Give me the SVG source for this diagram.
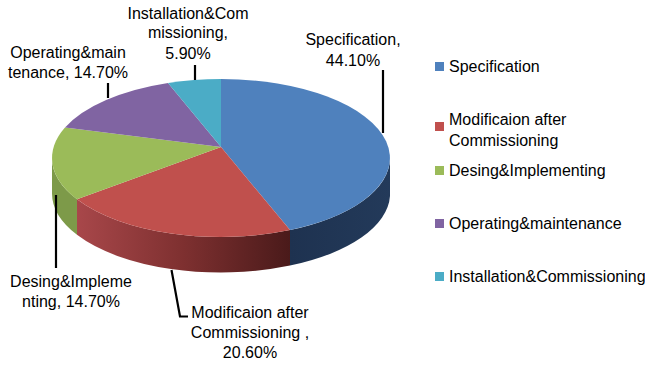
<svg xmlns="http://www.w3.org/2000/svg" width="645" height="367" viewBox="0 0 645 367">
<defs>
<linearGradient id="redSide" x1="77" y1="0" x2="290" y2="0" gradientUnits="userSpaceOnUse">
<stop offset="0" stop-color="#A8474A"/>
<stop offset="0.5" stop-color="#7E3030"/>
<stop offset="1" stop-color="#4A1A1A"/>
</linearGradient>
<linearGradient id="blueSide" x1="290" y1="0" x2="390" y2="0" gradientUnits="userSpaceOnUse">
<stop offset="0" stop-color="#1E3250"/>
<stop offset="1" stop-color="#233A5A"/>
</linearGradient>
</defs>
<style>
text{font-family:"Liberation Sans",Arial,sans-serif;font-size:16px;fill:#000}
.c{text-anchor:middle}
.lead{stroke:#000;stroke-width:2.2;fill:none}
</style>
<rect width="645" height="367" fill="#fff"/>
<g id="pie">
<g id="sides">
<path d="M52,158 A169,79 0 0,0 77,199.3 L77,234.8 A169,79 0 0,1 52,193.5 Z" fill="#7D9A49"/>
<path d="M77,199.3 A169,79 0 0,0 290,230.1 L290,265.6 A169,79 0 0,1 77,234.8 Z" fill="url(#redSide)"/>
<path d="M290,230.1 A169,79 0 0,0 390,158 L390,196 A169,79 0 0,1 290,265.6 Z" fill="url(#blueSide)"/>
</g>
<g id="slice-specification"><path d="M221,147 L221,79 A169,79 0 0,1 290,230.1 Z" fill="#4F81BD"/></g>
<g id="slice-modification"><path d="M221,147 L290,230.1 A169,79 0 0,1 77,199.3 Z" fill="#C0504D"/></g>
<g id="slice-desing"><path d="M221,147 L77,199.3 A169,79 0 0,1 65,127.6 Z" fill="#9BBB59"/></g>
<g id="slice-operating"><path d="M221,147 L65,127.6 A169,79 0 0,1 168,83 Z" fill="#8064A2"/></g>
<g id="slice-installation"><path d="M221,147 L168,83 A169,79 0 0,1 221,79 Z" fill="#4BACC6"/></g>
</g>
<g id="connectors">
<path class="lead" d="M383,70 L383,133"/>
<path class="lead" d="M195,65 L195,80"/>
<path class="lead" d="M108,83 L108,98"/>
<path class="lead" d="M56,195 L56,268"/>
<path class="lead" d="M171.5,270 L180,316.5 L188,316.5"/>
</g>
<g id="label-specification">
<text class="c" x="353" y="45">Specification,</text>
<text class="c" x="353" y="66">44.10%</text>
</g>
<g id="label-installation">
<text class="c" x="188" y="19">Installation&amp;Com</text>
<text class="c" x="188" y="38">missioning,</text>
<text class="c" x="188" y="59">5.90%</text>
</g>
<g id="label-operating">
<text class="c" x="68" y="58">Operating&amp;main</text>
<text class="c" x="68" y="78">tenance, 14.70%</text>
</g>
<g id="label-desing">
<text class="c" x="71" y="287">Desing&amp;Impleme</text>
<text class="c" x="71" y="307">nting, 14.70%</text>
</g>
<g id="label-modification">
<text class="c" x="250" y="318">Modificaion after</text>
<text class="c" x="250" y="338">Commissioning ,</text>
<text class="c" x="250" y="358">20.60%</text>
</g>
<g id="legend">
<rect x="435" y="62" width="9" height="9" fill="#4F81BD"/>
<text x="449" y="72">Specification</text>
<rect x="435" y="122" width="9" height="9" fill="#C0504D"/>
<text x="449" y="125">Modificaion after</text>
<text x="449" y="146">Commissioning</text>
<rect x="435" y="166" width="9" height="9" fill="#9BBB59"/>
<text x="449" y="176">Desing&amp;Implementing</text>
<rect x="435" y="219" width="9" height="9" fill="#8064A2"/>
<text x="449" y="229">Operating&amp;maintenance</text>
<rect x="435" y="272" width="9" height="9" fill="#4BACC6"/>
<text x="449" y="282">Installation&amp;Commissioning</text>
</g>
</svg>
